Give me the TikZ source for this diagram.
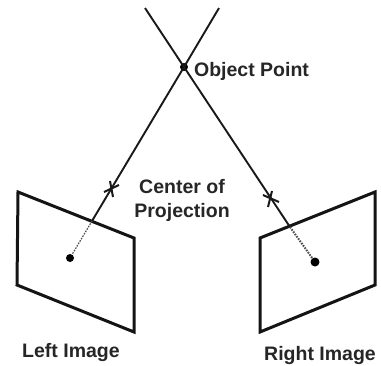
\documentclass[tikz,border=0pt]{standalone}
\usepackage{fontspec}
\setmainfont{Liberation Sans}
\usetikzlibrary{calc}
\tikzset{
  frameline/.style={line width=3pt,line join=miter,draw=black!92},
  rayline/.style={line width=1.9pt,draw=black!90},
  dotline/.style={line width=1.2pt,draw=black!70,dash pattern=on 1.6pt off 1.2pt},
  dotmark/.style={circle,fill=black,inner sep=0pt,minimum size=#1},
  crossline/.style={line width=2pt,draw=black!90},
  lbl/.style={font=\bfseries\fontsize{19.5}{24}\selectfont,text=black!85,align=center,inner sep=0pt}
}
\begin{document}
\begin{tikzpicture}[x=1pt,y=-1pt]
\useasboundingbox (0,0) rectangle (381,365);
\fill[white] (0,0) rectangle (381,365);
\coordinate (ltop) at (219,8);
\coordinate (rtop) at (145,8);
\node[dotmark=8pt] (obj) at (184,67) {};
\node[dotmark=8pt] (ldot) at (70,258) {};
\node[dotmark=9pt] (rdot) at (315,262) {};
\coordinate (lhit) at (92,221);
\coordinate (rhit) at (290,227);
\draw[frameline] (18,192) -- (134,238) -- (134,332) -- (17,285) -- cycle;
\draw[frameline] (260,238) -- (375,192) -- (375,285) -- (260,332) -- cycle;
\draw[rayline] (ltop) -- (obj.center) -- (lhit);
\draw[rayline] (rtop) -- (obj.center) -- (rhit);
\draw[dotline] (lhit) -- (ldot);
\draw[dotline,line width=2pt] (rhit) -- (rdot);
\draw[crossline] (104,192) -- (119,185);
\draw[crossline] (110,181) -- (113,197);
\draw[crossline] (263,195) -- (279,202);
\draw[crossline] (272,191) -- (268,207);
\node[lbl] (t1) at (251.5,71.5) {Object Point};
\node[lbl] (t2) at (182,200.5) {Center of\\Projection};
\node[lbl] (t3) at (71,352) {Left Image};
\node[lbl] (t4) at (320,355) {Right Image};
\end{tikzpicture}
\end{document}
